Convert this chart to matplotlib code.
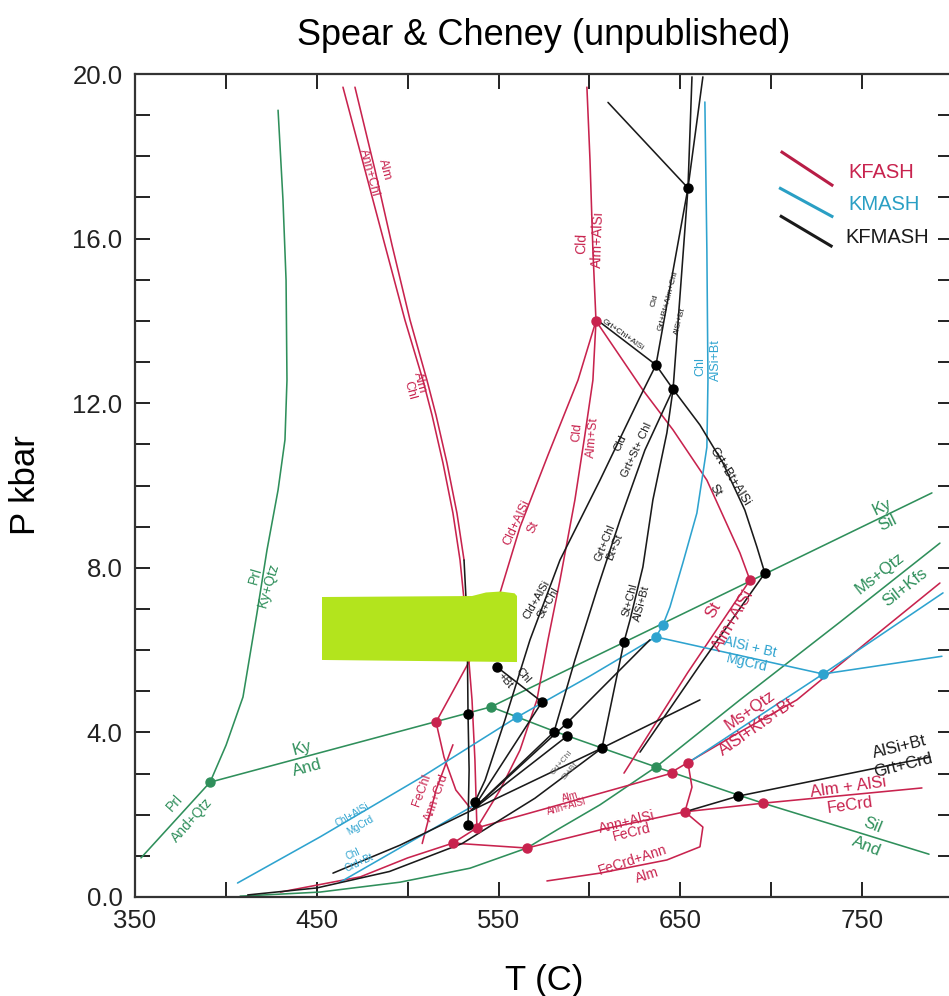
import matplotlib
matplotlib.use("Agg")
import matplotlib.pyplot as plt
from matplotlib.patches import Polygon

plt.rcParams['font.family'] = ['Liberation Sans', 'DejaVu Sans']

RED = '#c8234e'
BLUE = '#2ea3cf'
GREEN = '#2f8f5b'
BLACK = '#1a1a1a'
GREY = '#666666'

# ---------------- green (Al2SiO5 / KASH) ----------------
prl_kyqtz_T = [428.7, 431.4, 433.1, 433.6, 432.5, 428.7, 422.6, 417.1, 409.4, 400.1, 391.3]
prl_kyqtz_P = [19.12, 16.94, 14.99, 12.56, 11.11, 9.89, 8.43, 6.90, 4.86, 3.69, 2.79]
prl_and_T = [391.3, 353.3]
prl_and_P = [2.79, 0.95]
ky_and_T = [391.3, 545.8]
ky_and_P = [2.79, 4.62]
ky_sil_T = [545.8, 788.4]
ky_sil_P = [4.62, 9.82]
sil_and_T = [545.8, 580.5, 606.9, 636.6, 681.7, 695.5, 786.8]
sil_and_P = [4.62, 4.03, 3.62, 3.16, 2.48, 2.28, 1.04]
ms_qtz_T = [792.8, 737.8, 682.8, 636.6, 605.8, 582.1, 565.6, 534.3, 495.8, 451.8, 407.8]
ms_qtz_P = [8.60, 6.68, 4.79, 3.16, 2.24, 1.63, 1.19, 0.70, 0.36, 0.12, 0.02]

# ---------------- red (KFASH) ----------------
alm_annchl_T = [464.4, 476.5, 487.5, 498.5, 508.4, 513.4, 519.4, 524.9, 528.8, 531.0, 533.2, 535.4, 537.0, 538.1]
alm_annchl_P = [19.68, 17.67, 15.84, 14.02, 12.56, 11.71, 10.55, 9.33, 8.19, 7.22, 6.00, 4.79, 3.33, 1.68]
alm_chl_T = [471.0, 482.0, 491.4, 501.3, 510.6, 515.6, 521.6, 527.1, 531.0]
alm_chl_P = [19.68, 17.67, 15.84, 14.02, 12.56, 11.71, 10.55, 9.33, 8.19]
cld_almalsi_T = [598.6, 600.3, 601.9, 603.6]
cld_almalsi_P = [19.68, 17.91, 15.72, 14.00]
cldalsi_st_T = [603.6, 593.7, 577.2, 561.8, 550.8, 534.3, 515.6, 520.0, 526.5, 535.4]
cldalsi_st_P = [14.00, 12.56, 10.74, 8.99, 7.39, 5.76, 4.25, 3.40, 2.60, 2.11]
fechl_T = [508.0, 515.6, 524.9]
fechl_P = [1.30, 2.60, 3.70]
cld_almst_T = [603.6, 601.9, 597.5, 592.0, 583.8, 577.2, 571.1, 561.8, 550.8, 538.1]
cld_almst_P = [14.00, 12.56, 11.23, 9.65, 7.70, 6.25, 4.79, 3.57, 2.60, 1.68]
cld_st_T = [603.6, 629.4, 646.0, 664.6, 682.8, 688.3]
cld_st_P = [14.00, 12.32, 11.35, 10.13, 8.36, 7.70]
st_almalsi_T = [688.3, 654.0, 619.0]
st_almalsi_P = [7.70, 5.45, 3.01]
alm_annalsi_T = [538.1, 645.4]
alm_annalsi_P = [1.68, 3.01]
msqtz_kfsbt_T = [645.4, 680.0, 714.1, 754.3, 792.8]
msqtz_kfsbt_P = [3.04, 3.94, 4.79, 6.25, 7.63]
ann_fecrd_T = [524.9, 565.6, 605.8, 652.5]
ann_fecrd_P = [1.31, 1.19, 1.63, 2.07]
low_red_T = [430.0, 474.0, 500.0, 524.9, 538.1]
low_red_P = [0.12, 0.49, 0.95, 1.31, 1.68]
alm_fecrd_T = [652.5, 695.5, 782.9]
alm_fecrd_P = [2.07, 2.28, 2.65]
fecrd_loop_T = [654.2, 656.4, 652.5, 662.4, 660.8, 642.6, 605.8, 576.6]
fecrd_loop_P = [3.26, 2.67, 2.07, 1.70, 1.22, 0.90, 0.58, 0.39]

# ---------------- blue (KMASH) ----------------
chl_alsibt_T = [663.5, 664.6, 665.2, 664.6, 659.1, 651.4, 644.3, 640.4, 636.6]
chl_alsibt_P = [19.32, 15.72, 12.56, 10.93, 9.33, 8.12, 7.05, 6.61, 6.32]
chlalsi_mgcrd_T = [406.4, 451.8, 506.8, 560.1, 600.3, 636.6]
chlalsi_mgcrd_P = [0.34, 1.46, 2.89, 4.37, 5.37, 6.32]
alsibt_mgcrd_T = [636.6, 728.5, 793.9]
alsibt_mgcrd_P = [6.32, 5.42, 5.85]
kmash_ms_T = [654.2, 728.5, 794.5]
kmash_ms_P = [3.26, 5.42, 7.39]
blue_low_T = [462.8, 537.0]
blue_low_P = [0.36, 2.24]

# ---------------- black (KFMASH) ----------------
k1_T = [610.2, 654.2]
k1_P = [19.31, 17.23]
k2_T = [656.4, 654.2, 646.0, 642.6, 634.9, 629.4, 622.3, 619.0, 606.9]
k2_P = [19.93, 17.23, 12.34, 11.28, 9.65, 8.02, 6.73, 6.20, 3.62]
k3_T = [662.4, 654.2, 636.6]
k3_P = [19.93, 17.23, 12.93]
ka_T = [605.8, 636.6, 646.0, 660.8, 673.4, 685.5, 692.1, 696.5]
ka_P = [13.97, 12.93, 12.34, 11.47, 10.55, 9.40, 8.51, 7.87]
kcld_T = [636.6, 627.8, 605.8, 583.8, 567.3, 553.5, 542.6, 537.0]
kcld_P = [12.93, 12.15, 10.13, 8.19, 6.25, 4.30, 2.84, 2.31]
kgrt_T = [646.0, 630.5, 616.8, 604.1, 592.0, 580.5]
kgrt_P = [12.34, 10.86, 9.16, 7.46, 5.76, 4.01]
kvert_T = [531.0, 532.7, 533.2, 533.8, 533.2]
kvert_P = [8.19, 6.73, 4.45, 3.09, 1.75]
kb_T = [696.5, 660.8, 627.8]
kb_P = [7.87, 5.64, 3.52]
kcrd_T = [652.5, 681.7, 787.3]
kcrd_P = [2.07, 2.45, 3.40]
kchlbt_T = [549.1, 573.9]
kchlbt_P = [5.59, 4.74]
fan_a_T = [535.4, 573.9]
fan_a_P = [2.11, 4.74]
fan_b_T = [535.4, 580.5]
fan_b_P = [2.11, 4.01]
fan_c_T = [535.4, 587.7, 633.3]
fan_c_P = [2.11, 4.23, 6.25]
fan_d_T = [535.4, 587.7]
fan_d_P = [2.11, 3.91]
fan_e_T = [535.4, 606.9, 660.8]
fan_e_P = [2.11, 3.62, 4.79]
fan_low_T = [535.4, 495.8, 458.9]
fan_low_P = [2.11, 1.26, 0.58]
fan_bot_T = [606.9, 570.0, 530.0, 490.0, 450.0, 412.0]
fan_bot_P = [3.62, 2.40, 1.30, 0.62, 0.22, 0.05]

# invariant points
green_pts_T = [391.3, 545.8, 636.6]
green_pts_P = [2.79, 4.62, 3.16]
red_pts_T = [515.6, 603.6, 688.3, 645.4, 654.2, 652.5, 695.5, 538.1, 524.9, 565.6]
red_pts_P = [4.25, 14.00, 7.70, 3.01, 3.26, 2.07, 2.28, 1.68, 1.31, 1.19]
blue_pts_T = [560.1, 636.6, 640.4, 728.5]
blue_pts_P = [4.37, 6.32, 6.61, 5.42]
black_pts_T = [533.2, 573.9, 580.5, 587.7, 587.7, 606.9, 549.1, 619.0, 654.2, 636.6, 646.0, 696.5, 681.7, 537.0, 533.2]
black_pts_P = [4.45, 4.74, 4.01, 4.23, 3.91, 3.62, 5.59, 6.20, 17.23, 12.93, 12.34, 7.87, 2.45, 2.31, 1.75]

fig = plt.figure(figsize=(9.49, 9.96), dpi=100)
ax = fig.add_axes([0.14226, 0.0994, 0.86196, 0.8263])
ax.set_xlim(350, 800)
ax.set_ylim(0, 20)

lw = 1.15
def line(T, P, c, w=lw):
    ax.plot(T, P, color=c, lw=w, solid_capstyle='round', zorder=2)

for T, P in [(prl_kyqtz_T, prl_kyqtz_P), (prl_and_T, prl_and_P), (ky_and_T, ky_and_P),
             (ky_sil_T, ky_sil_P), (sil_and_T, sil_and_P), (ms_qtz_T, ms_qtz_P)]:
    line(T, P, GREEN)
for T, P in [(alm_annchl_T, alm_annchl_P), (alm_chl_T, alm_chl_P), (cld_almalsi_T, cld_almalsi_P),
             (cldalsi_st_T, cldalsi_st_P), (fechl_T, fechl_P), (cld_almst_T, cld_almst_P), (cld_st_T, cld_st_P),
             (st_almalsi_T, st_almalsi_P), (alm_annalsi_T, alm_annalsi_P), (msqtz_kfsbt_T, msqtz_kfsbt_P),
             (ann_fecrd_T, ann_fecrd_P), (low_red_T, low_red_P), (alm_fecrd_T, alm_fecrd_P),
             (fecrd_loop_T, fecrd_loop_P)]:
    line(T, P, RED)
for T, P in [(chl_alsibt_T, chl_alsibt_P), (chlalsi_mgcrd_T, chlalsi_mgcrd_P), (alsibt_mgcrd_T, alsibt_mgcrd_P),
             (kmash_ms_T, kmash_ms_P), (blue_low_T, blue_low_P)]:
    line(T, P, BLUE)
for T, P in [(k1_T, k1_P), (k2_T, k2_P), (k3_T, k3_P), (ka_T, ka_P), (kcld_T, kcld_P), (kgrt_T, kgrt_P),
             (kvert_T, kvert_P), (kb_T, kb_P), (kcrd_T, kcrd_P), (kchlbt_T, kchlbt_P),
             (fan_a_T, fan_a_P), (fan_b_T, fan_b_P), (fan_c_T, fan_c_P), (fan_d_T, fan_d_P),
             (fan_e_T, fan_e_P), (fan_low_T, fan_low_P), (fan_bot_T, fan_bot_P)]:
    line(T, P, BLACK)

ax.plot(green_pts_T, green_pts_P, 'o', color=GREEN, ms=6.5, zorder=3)
ax.plot(red_pts_T, red_pts_P, 'o', color=RED, ms=6.5, zorder=3)
ax.plot(blue_pts_T, blue_pts_P, 'o', color=BLUE, ms=6.5, zorder=3)
ax.plot(black_pts_T, black_pts_P, 'o', color='black', ms=6.5, zorder=3)

# reaction labels: (text, T, P, rotation, color, size)
labels = [
    ("Prl", 416.0, 7.82, 74, GREEN, 10), ("Ky+Qtz", 423.2, 7.58, 74, GREEN, 10),
    ("Prl", 372.0, 2.28, 48, GREEN, 10), ("And+Qtz", 381.4, 1.87, 48, GREEN, 10),
    ("Ky", 441.9, 3.62, 15, GREEN, 12), ("And", 444.6, 3.13, 15, GREEN, 12),
    ("Ky", 760.9, 9.48, 26, GREEN, 12), ("Sil", 764.2, 9.09, 26, GREEN, 12),
    ("Ms+Qtz", 759.8, 7.87, 38, GREEN, 12), ("Sil+Kfs", 773.5, 7.53, 38, GREEN, 12),
    ("Sil", 755.9, 1.75, -22, GREEN, 12), ("And", 752.6, 1.22, -22, GREEN, 12),
    ("Alm", 487.5, 17.67, -75, RED, 9), ("Ann+Chl", 478.7, 17.59, -75, RED, 9),
    ("Alm", 506.8, 12.49, -75, RED, 9), ("Chl", 501.3, 12.32, -75, RED, 9),
    ("Cld", 595.9, 15.89, 88, RED, 10), ("Alm+AlSi", 604.7, 15.97, 88, RED, 10),
    ("Cld", 593.1, 11.28, 85, RED, 9), ("Alm+St", 601.9, 11.18, 85, RED, 9),
    ("Cld+AlSi", 560.1, 9.09, 65, RED, 9), ("St", 568.9, 8.99, 65, RED, 9),
    ("St", 667.9, 6.97, 60, RED, 12), ("Alm+AlSi", 678.9, 6.73, 60, RED, 12),
    ("Ms+Qtz", 688.3, 4.54, 35, RED, 12), ("AlSi+Kfs+Bt", 692.1, 4.13, 35, RED, 12),
    ("Alm + AlSi", 742.2, 2.67, 8, RED, 12), ("FeCrd", 743.3, 2.24, 8, RED, 12),
    ("Ann+AlSi", 620.6, 1.82, 14, RED, 10), ("FeCrd", 623.4, 1.58, 14, RED, 10),
    ("FeCrd+Ann", 623.9, 0.90, 18, RED, 10), ("Alm", 631.6, 0.53, 18, RED, 10),
    ("Alm", 589.3, 2.43, 16, RED, 7), ("Ann+AlSi", 587.6, 2.19, 16, RED, 7),
    ("FeChl", 507.9, 2.60, 70, RED, 9), ("Ann+Crd", 516.1, 2.43, 70, RED, 9),
    ("Chl", 660.8, 12.88, 90, BLUE, 9), ("AlSi+Bt", 669.6, 13.05, 90, BLUE, 9),
    ("AlSi + Bt", 688.3, 6.08, -13, BLUE, 10), ("MgCrd", 686.6, 5.69, -13, BLUE, 10),
    ("Chl+AlSi", 469.4, 1.99, 30, BLUE, 7), ("MgCrd", 473.8, 1.75, 30, BLUE, 7),
    ("Grt+Bt+AlSi", 677.3, 10.21, -58, BLACK, 9), ("St", 669.0, 9.89, -58, BLACK, 9),
    ("AlSi+Bt", 770.8, 3.65, 14, BLACK, 12), ("Grt+Crd", 772.4, 3.21, 14, BLACK, 12),
    ("Cld", 616.8, 11.03, 65, BLACK, 8), ("Grt+St+ Chl", 626.1, 10.86, 65, BLACK, 8),
    ("Grt+Chl", 608.5, 8.60, 68, BLACK, 8), ("Bt+St", 614.0, 8.51, 68, BLACK, 8),
    ("St+Chl", 622.3, 7.22, 75, BLACK, 8), ("AlSi+Bt", 628.9, 7.14, 75, BLACK, 8),
    ("Cld+AlSi", 571.1, 7.22, 60, BLACK, 8), ("St+Chl", 577.2, 7.14, 60, BLACK, 8),
    ("Chl", 563.4, 5.39, -50, BLACK, 8), ("+Bt", 553.5, 5.27, -50, BLACK, 8),
    ("Grt+Chl+AlSi", 618.3, 13.66, -35, BLACK, 6), ("Cld", 636.0, 14.5, 75, BLACK, 6),
    ("Grt+Bt+Alm+Chl", 643.2, 14.5, 75, BLACK, 6), ("AlSi+Bt", 649.8, 14.0, 75, BLACK, 6),
    ("Grt+Chl", 585.0, 3.25, 50, GREY, 6), ("St+Bt", 589.5, 3.05, 50, GREY, 6),
    ("Chl", 470.0, 1.05, 25, BLUE, 7), ("Crd+Bt", 473.0, 0.82, 25, BLUE, 7),
]
for txt, T, P, rot, c, s in labels:
    ax.text(T, P, txt, rotation=rot, color=c, fontsize=s, ha='center', va='center',
            rotation_mode='anchor', zorder=4)

# legend drawn as short slanted strokes
leg = [(0.791, 0.905, 0.852, 0.865, '#b81d46', "KFASH", 0.872, 0.880),
       (0.789, 0.861, 0.852, 0.827, '#2a9fc4', "KMASH", 0.872, 0.841),
       (0.790, 0.827, 0.851, 0.791, BLACK, "KFMASH", 0.868, 0.801)]
for x0, y0, x1, y1, c, t, tx, ty in leg:
    ax.plot([x0, x1], [y0, y1], color=c, lw=2.2, transform=ax.transAxes)
    ax.text(tx, ty, t, color=c if c != '#b81d46' else RED, fontsize=14.5,
            transform=ax.transAxes, va='center', ha='left')

# redaction block (with the small bump on its top edge)
ax.add_patch(Polygon([(0.2286, 0.2880), (0.2286, 0.3645), (0.4120, 0.3657), (0.4290, 0.3700),
                      (0.4470, 0.3712), (0.4640, 0.3690), (0.4670, 0.3657), (0.4670, 0.2855)],
                     closed=True, transform=ax.transAxes, facecolor='#b3e41d',
                     edgecolor='none', zorder=6))

# axes styling
xt = [350, 400, 450, 500, 550, 600, 650, 700, 750, 800]
xl = ['350', '', '450', '', '550', '', '650', '', '750', '']
ax.set_xticks(xt)
ax.set_xticklabels(xl)
yt = list(range(0, 21))
yl = [f"{v:.1f}" if v % 4 == 0 else '' for v in yt]
ax.set_yticks(yt)
ax.set_yticklabels(yl)
ax.tick_params(direction='in', length=11, width=1.4, top=True, right=True,
               labelsize=18.5, colors='#222222', pad=9)
for s in ax.spines.values():
    s.set_linewidth(1.6)
    s.set_color('#333333')
ax.set_xlabel("T (C)", fontsize=25, labelpad=22)
ax.set_ylabel("P kbar", fontsize=25, labelpad=22)
fig.text(0.573, 0.964, "Spear & Cheney (unpublished)", fontsize=26, ha='center', va='center')

fig.savefig("out.png", dpi=100)
